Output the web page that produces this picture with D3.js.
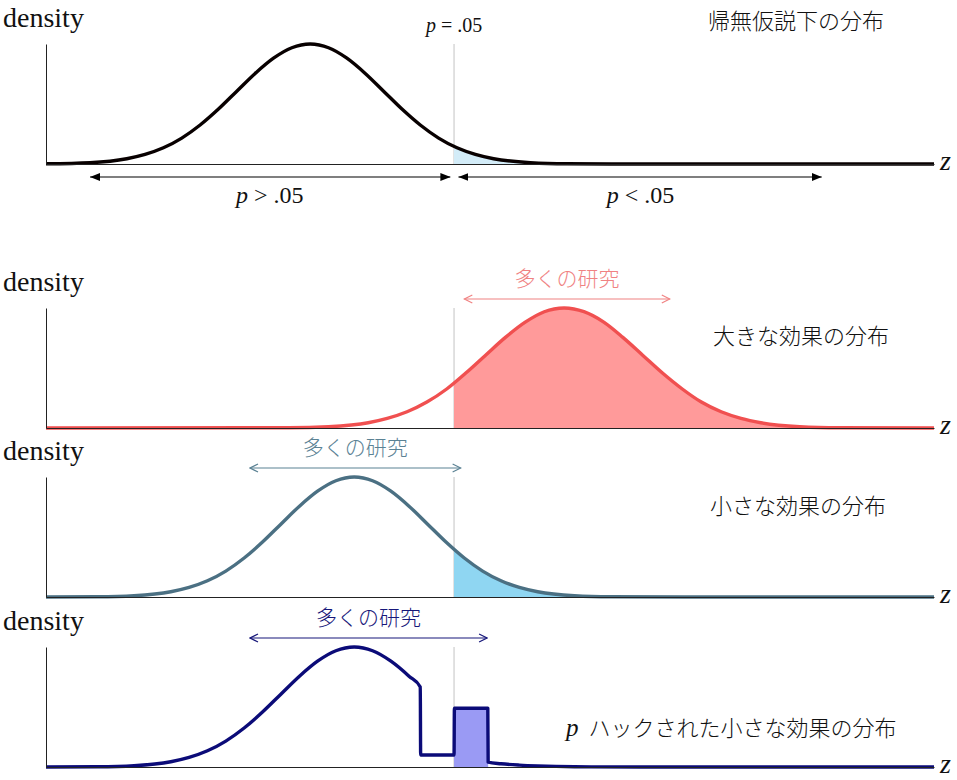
<!doctype html>
<html lang="ja">
<head>
<meta charset="utf-8">
<title>p-hacking: distributions of z</title>
<script src="https://cdn.jsdelivr.net/npm/d3@7"></script>
<style>
  body { margin: 0; background: #fff; }
  text { font-family: "Liberation Serif", "Times New Roman", serif; fill: #111; }
  .jp { font-family: "Noto Sans CJK JP", sans-serif; font-weight: 300; }
</style>
</head>
<body>
<script>
// z value on the x axis, relative density (peak = 1)
var nullZ = [-3.6, -3, -2.5, -2.25, -2, -1.75, -1.5, -1.25, -1, -0.75, -0.5, -0.25, 0,
             0.25, 0.5, 0.75, 1, 1.25, 1.5, 1.75, 2, 2.25, 2.5, 3, 3.5, 4.5, 8.5];
var nullDensity = [0.002, 0.011, 0.044, 0.080, 0.135, 0.216, 0.325, 0.458, 0.607, 0.755, 0.882, 0.969, 1,
                   0.969, 0.882, 0.755, 0.607, 0.458, 0.325, 0.216, 0.135, 0.080, 0.044, 0.011, 0.002, 0, 0];

var bigZ = [-3.6, -0.29, 0.25, 0.79, 1.05, 1.32, 1.59, 1.86, 2.12, 2.39, 2.66, 2.93, 3.19, 3.46,
            3.73, 4.00, 4.26, 4.53, 4.80, 5.07, 5.33, 5.60, 5.87, 6.14, 6.67, 7.21, 8.5];
var bigDensity = [0, 0.002, 0.011, 0.044, 0.080, 0.135, 0.216, 0.325, 0.458, 0.607, 0.755, 0.882, 0.969, 1,
                  0.969, 0.882, 0.755, 0.607, 0.458, 0.325, 0.216, 0.135, 0.080, 0.044, 0.011, 0.002, 0];

var smallZ = [-3.6, -2.9, -2.4, -1.9, -1.65, -1.4, -1.15, -0.9, -0.65, -0.4, -0.15, 0.1, 0.35, 0.6,
              0.85, 1.1, 1.35, 1.6, 1.85, 2.1, 2.35, 2.6, 2.85, 3.1, 3.6, 4.1, 5.1, 8.5];
var smallDensity = [0, 0.002, 0.011, 0.044, 0.080, 0.135, 0.216, 0.325, 0.458, 0.607, 0.755, 0.882, 0.969, 1,
                    0.969, 0.882, 0.755, 0.607, 0.458, 0.325, 0.216, 0.135, 0.080, 0.044, 0.011, 0.002, 0, 0];

var hackZ = [-3.6, -2.9, -2.4, -1.9, -1.65, -1.4, -1.15, -0.9, -0.65, -0.4, -0.15, 0.1, 0.35, 0.6,
             0.85, 1.1, 1.35, 1.5, 1.505, 1.96, 1.965, 2.42, 2.425, 2.6, 2.85, 3.1, 3.6, 4.5, 8.5];
var hackDensity = [0, 0.002, 0.011, 0.044, 0.080, 0.135, 0.216, 0.325, 0.458, 0.607, 0.755, 0.882, 0.969, 1,
                   0.969, 0.882, 0.755, 0.667, 0.10, 0.10, 0.49, 0.49, 0.04, 0.027, 0.016, 0.009, 0.002, 0, 0];

var critZ = 1.96;
var titles = ["帰無仮説下の分布", "大きな効果の分布", "小さな効果の分布", "ハックされた小さな効果の分布"];
var studyLabel = "多くの研究";
var studyRanges = [null, [2.10, 4.90], [-0.82, 2.05], [-0.82, 2.41]];
var nullArrows = [[-3.0, 1.91], [2.02, 6.97]];
var nullLabels = [{z: -0.55, op: " > .05"}, {z: 4.5, op: " < .05"}];

var svgW = 957, svgH = 780;

var panels = [
  {base: 164, z: nullZ, d: nullDensity, stroke: "#080000", fill: "#d3ecf8", fillTo: 8.5,
   note: null, titleX: 708, titleDy: -135},
  {base: 428, z: bigZ, d: bigDensity, stroke: "#f05050", fill: "#ff9a9a", fillTo: 8.5,
   note: "#f08282", titleX: 713, titleDy: -84},
  {base: 597, z: smallZ, d: smallDensity, stroke: "#4b7083", fill: "#8fd6f2", fillTo: 8.5,
   note: "#5b8294", titleX: 710, titleDy: -83},
  {base: 767, z: hackZ, d: hackDensity, stroke: "#0b0b78", fill: "#9a9af4", fillTo: 2.425,
   note: "#17177a", titleX: 566, titleDy: -31}
];

var xScale = d3.scaleLinear()
               .domain([-3.6, 8.5])
               .range([46, 934]);

var svg = d3.select("body")
            .append("svg")
            .attr("width", svgW)
            .attr("height", svgH);

var defs = svg.append("defs");

defs.append("marker")
    .attr("id", "headFill")
    .attr("viewBox", "0 0 10 8")
    .attr("refX", 10).attr("refY", 4)
    .attr("markerWidth", 10).attr("markerHeight", 8)
    .attr("markerUnits", "userSpaceOnUse")
    .attr("orient", "auto-start-reverse")
    .append("path")
    .attr("d", "M0,0 L10,4 L0,8 Z")
    .attr("fill", "#000");

panels.forEach(function(p, i) {
    if (!p.note) return;
    defs.append("marker")
        .attr("id", "chev" + i)
        .attr("viewBox", "-1 -1 10 10")
        .attr("refX", 8).attr("refY", 4)
        .attr("markerWidth", 10).attr("markerHeight", 10)
        .attr("markerUnits", "userSpaceOnUse")
        .attr("orient", "auto-start-reverse")
        .append("path")
        .attr("d", "M0,0 L8,4 L0,8")
        .attr("fill", "none")
        .attr("stroke", p.note)
        .attr("stroke-width", 1.2);
});

panels.forEach(function(p, i) {
    var yScale = d3.scaleLinear()
                   .domain([0, 1])
                   .range([p.base, p.base - 120]);

    var pts = p.z.map((z, k) => [z, p.d[k]]);
    var g = svg.append("g");

    // p = .05 line
    g.append("line")
     .attr("x1", xScale(critZ)).attr("x2", xScale(critZ))
     .attr("y1", yScale(1)).attr("y2", yScale(0))
     .attr("stroke", "#c4c4c4")
     .attr("stroke-width", 1);

    defs.append("clipPath")
        .attr("id", "clip" + i)
        .append("rect")
        .attr("x", xScale(critZ))
        .attr("y", yScale(1) - 10)
        .attr("width", xScale(p.fillTo) - xScale(critZ))
        .attr("height", 130);

    var area = d3.area()
                 .x(d => xScale(d[0]))
                 .y0(yScale(0))
                 .y1(d => yScale(d[1]))
                 .curve(d3.curveMonotoneX);

    g.append("path")
     .datum(pts)
     .attr("d", area)
     .attr("fill", p.fill)
     .attr("clip-path", "url(#clip" + i + ")");

    var line = d3.line()
                 .x(d => xScale(d[0]))
                 .y(d => yScale(d[1]))
                 .curve(d3.curveMonotoneX);

    g.append("path")
     .datum(pts)
     .attr("d", line)
     .attr("fill", "none")
     .attr("stroke", p.stroke)
     .attr("stroke-width", 3.4)
     .attr("stroke-linejoin", "round");

    // axes without ticks
    g.append("g")
     .attr("transform", "translate(0," + p.base + ")")
     .attr("color", "#222")
     .call(d3.axisBottom(xScale).tickValues([]).tickSizeOuter(0));

    g.append("g")
     .attr("transform", "translate(" + xScale(-3.6) + ",0)")
     .attr("color", "#222")
     .call(d3.axisLeft(yScale).tickValues([]).tickSizeOuter(0));

    g.append("text")
     .attr("x", 3)
     .attr("y", p.base - 137)
     .attr("font-size", 28)
     .text("density");

    g.append("text")
     .attr("x", xScale(8.5) + 6)
     .attr("y", p.base + 6)
     .attr("font-size", 28)
     .attr("font-style", "italic")
     .text("z");

    var title = g.append("text")
                 .attr("x", p.titleX)
                 .attr("y", p.base + p.titleDy)
                 .attr("font-size", 22);
    if (i == 3) {
        title.append("tspan")
             .attr("font-style", "italic")
             .attr("font-size", 25)
             .text("p");
        title.append("tspan")
             .attr("class", "jp")
             .attr("dx", 10)
             .text(titles[i]);
    } else {
        title.attr("class", "jp").text(titles[i]);
    }

    if (p.note) {
        var r = studyRanges[i];
        g.append("line")
         .attr("x1", xScale(r[0])).attr("x2", xScale(r[1]))
         .attr("y1", p.base - 129).attr("y2", p.base - 129)
         .attr("stroke", p.note)
         .attr("stroke-width", 1.2)
         .attr("marker-start", "url(#chev" + i + ")")
         .attr("marker-end", "url(#chev" + i + ")");

        g.append("text")
         .attr("class", "jp")
         .attr("x", (xScale(r[0]) + xScale(r[1])) / 2)
         .attr("y", p.base - 142)
         .attr("text-anchor", "middle")
         .attr("font-size", 21)
         .style("fill", p.note)
         .text(studyLabel);
    }

    if (i == 0) {
        var pl = g.append("text")
                  .attr("x", xScale(critZ))
                  .attr("y", 32)
                  .attr("text-anchor", "middle")
                  .attr("font-size", 20);
        pl.append("tspan").attr("font-style", "italic").text("p");
        pl.append("tspan").text(" = .05");

        nullArrows.forEach(function(a) {
            g.append("line")
             .attr("x1", xScale(a[0])).attr("x2", xScale(a[1]))
             .attr("y1", p.base + 13).attr("y2", p.base + 13)
             .attr("stroke", "#000")
             .attr("stroke-width", 1.2)
             .attr("marker-start", "url(#headFill)")
             .attr("marker-end", "url(#headFill)");
        });

        nullLabels.forEach(function(l) {
            var t = g.append("text")
                     .attr("x", xScale(l.z))
                     .attr("y", p.base + 39)
                     .attr("text-anchor", "middle")
                     .attr("font-size", 24);
            t.append("tspan").attr("font-style", "italic").text("p");
            t.append("tspan").text(l.op);
        });
    }
});
</script>
</body>
</html>
